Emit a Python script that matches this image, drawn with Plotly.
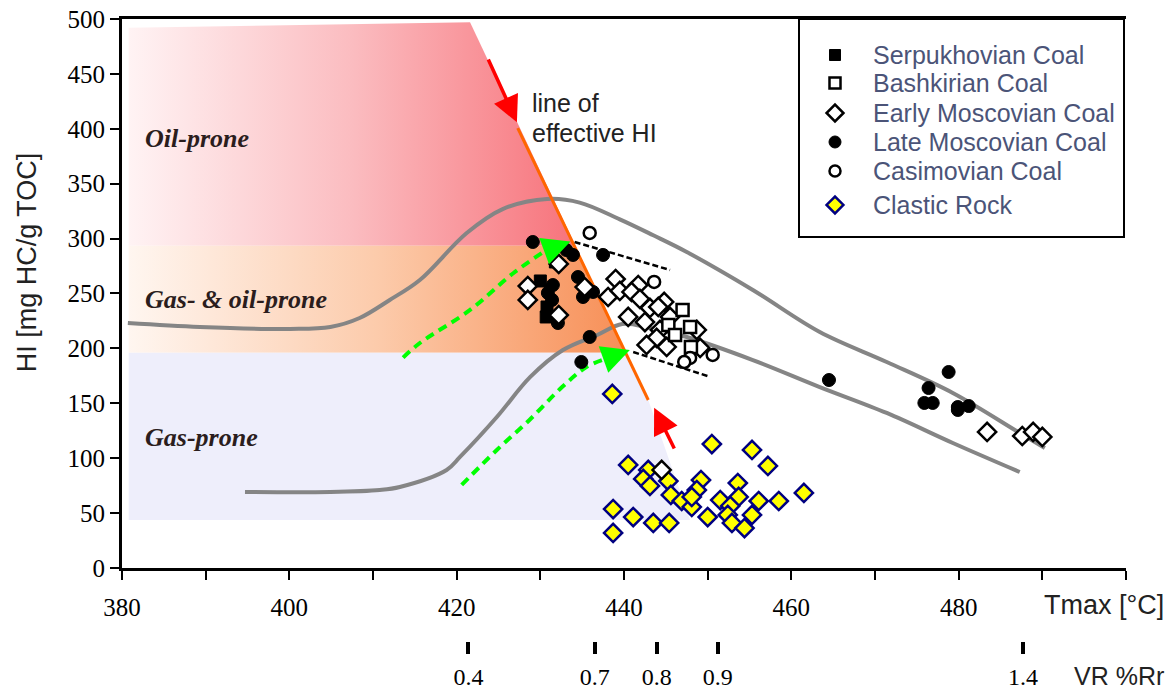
import plotly.graph_objects as go

# ---------------- data ----------------
SERP_T = [430.0, 431.8, 430.8, 430.7]
SERP_HI = [261.4, 278.7, 237.7, 228.6]

BASH_T = [447.0, 445.3, 447.9, 446.1, 448.0]
BASH_HI = [235.0, 221.3, 219.5, 212.2, 201.3]

EMOS_T = [428.5, 428.5, 432.2, 432.2, 435.3, 438.1, 439.0, 439.5, 441.7, 440.9,
          441.9, 443.1, 444.8, 440.5, 442.5, 444.3, 445.5, 443.9, 442.7, 445.1,
          449.1, 448.7, 444.1, 444.5, 483.4, 487.6, 488.9, 490.0]
EMOS_HI = [256.8, 244.1, 230.4, 276.9, 255.9, 246.8, 263.2, 252.3, 257.7, 251.4,
           245.0, 236.8, 242.3, 228.6, 224.0, 216.8, 228.6, 209.5, 203.1, 201.3,
           200.4, 216.8, 237.7, 89.3, 123.9, 120.2, 123.9, 119.3]

LMOS_T = [429.1, 433.1, 433.9, 437.5, 434.5, 431.5, 435.1, 430.9, 436.3, 432.1,
          431.4, 435.9, 434.9, 464.5, 478.8, 476.4, 475.9, 476.9, 479.9, 481.2, 479.9]
LMOS_HI = [296.9, 289.6, 285.1, 285.1, 265.0, 257.7, 246.8, 250.5, 251.4, 223.1,
           244.1, 210.4, 187.6, 171.2, 178.5, 163.9, 150.3, 150.3, 146.6, 147.5, 143.9]

CASI_T = [435.9, 443.6, 447.9, 447.2, 450.6]
CASI_HI = [305.1, 260.5, 191.3, 187.6, 194.0]

CLAS_T = [438.6, 450.5, 455.3, 457.2, 440.5, 442.9, 442.3, 443.1, 445.3, 449.2,
          448.7, 453.6, 453.7, 445.6, 446.9, 448.1, 448.1, 451.5, 452.7, 456.1,
          458.5, 461.5, 438.7, 441.1, 443.5, 445.4, 450.0, 452.4, 455.3, 452.9,
          454.4, 438.7]
CLAS_HI = [158.5, 112.9, 107.5, 92.9, 93.8, 89.3, 81.1, 74.7, 79.2, 80.1,
           71.0, 77.4, 64.7, 66.5, 61.0, 55.6, 64.7, 61.9, 56.5, 61.0,
           61.0, 68.3, 53.7, 46.4, 41.0, 41.0, 46.4, 48.3, 48.3, 41.0,
           36.4, 31.9]

# kerogen-type fields (polygons)
OIL_T = [380.8, 380.8, 421.6, 434.2, 380.8]
OIL_HI = [293.5, 492.0, 497.0, 293.5, 293.5]
GASOIL_T = [380.8, 380.8, 434.2, 440.2, 380.8]
GASOIL_HI = [196.0, 293.5, 293.5, 196.0, 196.0]
GAS_T = [380.8, 380.8, 440.2, 442.9, 447.9, 380.8]
GAS_HI = [43.7, 196.0, 196.0, 153.0, 43.7, 43.7]

# line of effective HI
EFF_T = [427.3, 442.9]
EFF_HI = [400.7, 153.0]

# gray maturation trends
UP_T = [380.7, 389.3, 400.1, 404.9, 408.4, 412.0, 415.6, 421.2, 425.5, 430.8,
        434.7, 439.5, 443.5, 447.5, 455.4, 463.4, 471.4, 479.3, 487.3, 490.3]
UP_HI = [223.1, 219.5, 217.7, 219.5, 227.7, 244.1, 262.3, 305.1, 326.9, 336.1,
         332.8, 317.5, 303.0, 287.8, 253.2, 214.9, 187.6, 159.4, 123.0, 109.3]
LO_T = [394.7, 404.9, 410.8, 413.2, 418.8, 420.4, 424.8, 428.8, 432.7, 436.8,
        439.8, 443.1, 447.5, 455.4, 463.4, 471.4, 479.3, 487.3]
LO_HI = [69.2, 69.2, 71.0, 73.8, 89.3, 101.1, 137.5, 174.0, 198.5, 212.2,
         222.2, 218.6, 210.4, 189.4, 164.8, 141.2, 113.8, 87.4]

# green dashed trends
G1_T = [413.6, 415.6, 421.6, 426.8, 430.6]
G1_HI = [191.6, 204.9, 235.0, 268.7, 289.0]
G2_T = [420.6, 424.8, 428.7, 432.6, 435.5, 437.6]
G2_HI = [75.6, 107.5, 134.8, 164.8, 183.0, 190.0]

# black dashed envelope
D1_T = [434.1, 445.5]
D1_HI = [296.9, 271.4]
D2_T = [441.1, 450.3]
D2_HI = [196.7, 174.0]

# vitrinite reflectance scale
VR_TMAX = [421.4, 436.5, 443.9, 451.2, 487.7]
VR_LABELS = ["0.4", "0.7", "0.8", "0.9", "1.4"]

X_TICKS = [380, 400, 420, 440, 460, 480]

LEGEND_NAMES = ["Serpukhovian Coal", "Bashkirian Coal", "Early Moscovian Coal",
                "Late Moscovian Coal", "Casimovian Coal", "Clastic Rock"]

fig = go.Figure()

def poly(x, y, grad=None, color=None):
    kw = dict(x=x, y=y, mode="lines", fill="toself", line=dict(width=0),
              showlegend=False, hoverinfo="skip")
    if grad:
        kw["fillgradient"] = dict(type="horizontal", colorscale=grad)
    else:
        kw["fillcolor"] = color
    fig.add_trace(go.Scatter(**kw))

poly(OIL_T, OIL_HI, grad=[[0, "#fff3f4"], [0.5, "#fbbcc0"], [1, "#f7737b"]])
poly(GASOIL_T, GASOIL_HI, grad=[[0, "#fff6f0"], [0.5, "#fccbab"], [1, "#f78f57"]])
poly(GAS_T, GAS_HI, color="#eeeefb")

def line(x, y, color, width, dash="solid", shape="spline"):
    fig.add_trace(go.Scatter(x=x, y=y, mode="lines",
                             line=dict(color=color, width=width, dash=dash, shape=shape),
                             showlegend=False, hoverinfo="skip"))

line(UP_T, UP_HI, "#858585", 4)
line(LO_T, LO_HI, "#858585", 4)
line(EFF_T, EFF_HI, "#ff6600", 3, shape="linear")
line(D1_T, D1_HI, "black", 2.5, dash="6px,3px", shape="linear")
line(D2_T, D2_HI, "black", 2.5, dash="6px,3px", shape="linear")
line(G1_T, G1_HI, "#00ff00", 4, dash="9px,6px")
line(G2_T, G2_HI, "#00ff00", 4, dash="9px,6px")

STYLES = {
    "Serpukhovian Coal": dict(symbol="square", size=12, color="black", line=dict(color="black", width=1)),
    "Bashkirian Coal": dict(symbol="square", size=12, color="white", line=dict(color="black", width=2.5)),
    "Early Moscovian Coal": dict(symbol="diamond", size=14, color="white", line=dict(color="black", width=2.5)),
    "Late Moscovian Coal": dict(symbol="circle", size=13, color="black", line=dict(color="black", width=1)),
    "Casimovian Coal": dict(symbol="circle", size=12, color="white", line=dict(color="black", width=2.5)),
    "Clastic Rock": dict(symbol="diamond", size=14, color="#ffff00", line=dict(color="#000080", width=2.5)),
}
SERIES = {
    "Late Moscovian Coal": (LMOS_T, LMOS_HI),
    "Serpukhovian Coal": (SERP_T, SERP_HI),
    "Clastic Rock": (CLAS_T, CLAS_HI),
    "Early Moscovian Coal": (EMOS_T, EMOS_HI),
    "Bashkirian Coal": (BASH_T, BASH_HI),
    "Casimovian Coal": (CASI_T, CASI_HI),
}
for name, (xs, ys) in SERIES.items():
    fig.add_trace(go.Scatter(x=xs, y=ys, mode="markers", name=name, showlegend=False,
                             marker=STYLES[name]))

# invisible trace carrying the VR axis
fig.add_trace(go.Scatter(x=VR_TMAX, y=[0] * len(VR_TMAX), xaxis="x2", mode="markers",
                         marker=dict(opacity=0), showlegend=False, hoverinfo="skip"))

# ---- legend box (drawn on a pixel-scaled overlay axis) ----
LEG_ROW_Y = [55, 83, 113, 142, 171, 205]
LEG_SYM_X = 835
LEG_TXT_X = 871
ann = []
for name, yy in zip(LEGEND_NAMES, LEG_ROW_Y):
    st = dict(STYLES[name])
    st["size"] = st["size"] - 1
    fig.add_trace(go.Scatter(x=[LEG_SYM_X], y=[yy], xaxis="x3", yaxis="y3", mode="markers",
                             marker=st, showlegend=False, hoverinfo="skip", cliponaxis=False))
    ann.append(dict(x=LEG_TXT_X, y=yy, xref="x3", yref="y3", xanchor="left", yanchor="middle",
                    text=name, showarrow=False,
                    font=dict(family="Liberation Sans", size=25, color="#4b5478")))

shapes = [dict(type="rect", xref="x3", yref="y3", x0=799, x1=1124, y0=19, y1=237,
               line=dict(color="black", width=2), fillcolor="white", layer="below")]

def arrow(tail, tip, color, width, size):
    ann.append(dict(x=tip[0], y=tip[1], ax=tail[0], ay=tail[1], xref="x", yref="y",
                    axref="x", ayref="y", text="", showarrow=True, arrowhead=2,
                    arrowsize=size, arrowwidth=width, arrowcolor=color, standoff=0))

arrow((423.7, 464.5), (427.2, 406.0), "#ff0000", 3.5, 1.5)
arrow((446.1, 107.5), (443.6, 146.0), "#ff0000", 3.5, 1.5)
arrow((430.6, 289.0), (433.6, 297.4), "#00ff00", 3.5, 1.6)
arrow((437.6, 190.0), (440.7, 198.5), "#00ff00", 3.5, 1.6)

label_font = dict(family="Liberation Serif", size=26, color="#2b1d1d")
for txt, yv in [("Oil-prone", 391.6), ("Gas- &amp; oil-prone", 244.1), ("Gas-prone", 118.4)]:
    ann.append(dict(x=382.5, y=yv, xref="x", yref="y", xanchor="left", yanchor="middle",
                    text="<b><i>" + txt + "</i></b>", showarrow=False, font=label_font))

for txt, yv in [("line of", 423.5), ("effective HI", 396.0)]:
    ann.append(dict(x=428.8, y=yv, xref="x", yref="y", xanchor="left", yanchor="middle",
                    text=txt, showarrow=False,
                    font=dict(family="Liberation Sans", size=25, color="#222222")))
ann.append(dict(x=-0.0946, y=0.609, xref="paper", yref="paper", xanchor="center",
                yanchor="middle", textangle=-90, text="HI [mg HC/g TOC]", showarrow=False,
                font=dict(family="Liberation Sans", size=27, color="#222222")))
ann.append(dict(x=1.04, y=0.0579, xref="paper", yref="paper", xanchor="right",
                yanchor="middle", text="Tmax [°C]", showarrow=False,
                font=dict(family="Liberation Sans", size=27, color="#222222")))
ann.append(dict(x=1.04, y=-0.0555, xref="paper", yref="paper", xanchor="right",
                yanchor="middle", text="VR %Rr", showarrow=False,
                font=dict(family="Liberation Sans", size=25, color="#222222")))

tickfont = dict(family="Liberation Serif", size=25, color="black")
vrfont = dict(family="Liberation Serif", size=24, color="black")
# the page body adds an 8px offset, so the figure is 8px smaller than the window
fig.update_layout(
    template="none",
    width=1165, height=683,
    margin=dict(l=114, r=47, t=11, b=50, autoexpand=False),
    paper_bgcolor="white", plot_bgcolor="white",
    font=dict(family="Liberation Sans"),
    annotations=ann, shapes=shapes, showlegend=False,
    xaxis=dict(range=[380, 500], domain=[0, 1], anchor="y", tickvals=X_TICKS,
               ticks="outside", ticklen=9, tickwidth=2, tickcolor="black",
               showline=True, linewidth=3, linecolor="black", mirror=True,
               showgrid=False, zeroline=False, tickfont=tickfont, ticklabelstandoff=6,
               ticklabeloverflow="allow",
               minor=dict(dtick=10, tick0=380, ticks="outside", ticklen=9, tickwidth=2,
                          tickcolor="black", showgrid=False)),
    xaxis2=dict(range=[380, 500], overlaying="x", anchor="free", position=0, side="bottom",
                tickvals=VR_TMAX, ticktext=VR_LABELS, ticks="outside", ticklen=12,
                tickwidth=4, tickcolor="black", showline=False, showgrid=False,
                zeroline=False, tickfont=vrfont, ticklabelstandoff=2,
                ticklabeloverflow="allow"),
    xaxis3=dict(range=[122, 1126], overlaying="x", anchor="y3", visible=False,
                showgrid=False, zeroline=False),
    yaxis=dict(range=[0, 500], domain=[0.1174, 1], dtick=50, ticks="outside", ticklen=9,
               tickwidth=2, tickcolor="black", showline=True, linewidth=3,
               linecolor="black", showgrid=False, zeroline=False, tickfont=tickfont,
               ticklabeloverflow="allow"),
    yaxis3=dict(range=[568, 19], overlaying="y", anchor="x3", visible=False,
                showgrid=False, zeroline=False),
)

fig.write_html("out.html")
